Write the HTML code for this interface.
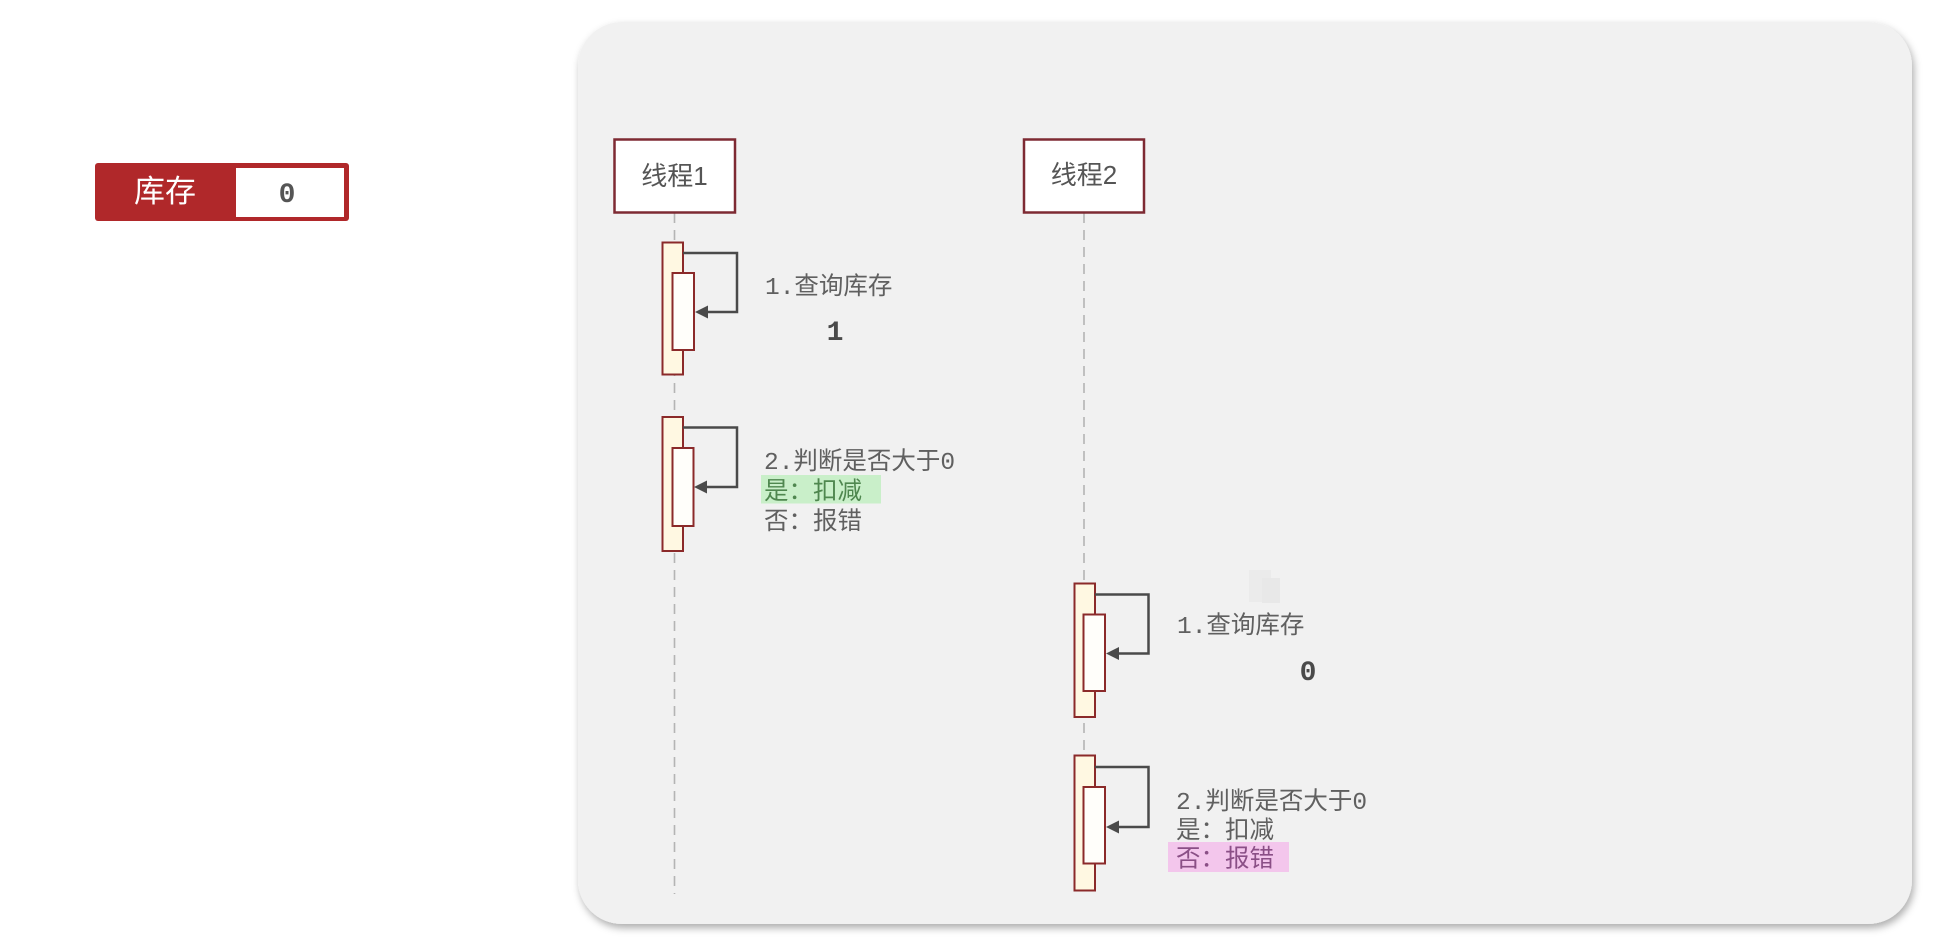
<!DOCTYPE html>
<html>
<head>
<meta charset="utf-8">
<style>
  html,body{margin:0;padding:0;background:#ffffff;}
  body{width:1938px;height:946px;overflow:hidden;position:relative;}
  svg{position:absolute;left:0;top:0;}
  .mono{font-family:"Liberation Mono","Noto Sans CJK SC",monospace;}
  .sans{font-family:"Liberation Sans","Noto Sans CJK SC",sans-serif;}
</style>
</head>
<body>
<svg width="1938" height="946" viewBox="0 0 1938 946" xmlns="http://www.w3.org/2000/svg">
  <defs>
    <filter id="sh" x="-5%" y="-5%" width="110%" height="115%">
      <feDropShadow dx="2" dy="4" stdDeviation="4" flood-color="#000" flood-opacity="0.32"/>
    </filter>
  </defs>

  <!-- Badge 库存 0 -->
  <rect x="95" y="163" width="254" height="58" rx="3" fill="#b0282a"/>
  <rect x="236" y="168" width="108" height="49" fill="#ffffff"/>
  <text x="165" y="202" class="sans" font-size="31" fill="#ffffff" text-anchor="middle">库存</text>
  <text x="287" y="202" class="mono" font-size="28" font-weight="bold" fill="#555555" text-anchor="middle">0</text>

  <!-- Panel -->
  <rect x="578" y="22" width="1334" height="902" rx="44" ry="44" fill="#f1f1f1" filter="url(#sh)"/>

  <!-- faint square -->
  <rect x="1249" y="570" width="22" height="32" fill="#ebebeb"/>
  <rect x="1262" y="578" width="18" height="25" fill="#e8e8e8"/>

  <!-- Lifelines -->
  <line x1="674.5" y1="213" x2="674.5" y2="894" stroke="#b4b4b4" stroke-width="1.6" stroke-dasharray="10,7"/>
  <line x1="1084" y1="213" x2="1084" y2="893" stroke="#b4b4b4" stroke-width="1.6" stroke-dasharray="10,7"/>

  <!-- Thread boxes -->
  <rect x="614.5" y="139.5" width="120.5" height="73" fill="#ffffff" stroke="#7e2a33" stroke-width="2.5"/>
  <text x="674.5" y="185" class="sans" font-size="26" fill="#555555" text-anchor="middle">线程1</text>
  <rect x="1024" y="139.5" width="120" height="73" fill="#ffffff" stroke="#7e2a33" stroke-width="2.5"/>
  <text x="1084" y="184" class="sans" font-size="26" fill="#555555" text-anchor="middle">线程2</text>

  <!-- Thread 1, step 1 -->
  <rect x="662.5" y="242.5" width="20.5" height="132" fill="#fff8e2" stroke="#8b2a2a" stroke-width="2"/>
  <rect x="672.5" y="273" width="21.5" height="77" fill="#fffefa" stroke="#8b2a2a" stroke-width="2"/>
  <path d="M683,253 H737 V312 H706" fill="none" stroke="#4a4a4a" stroke-width="2.5"/>
  <polygon points="695,312 708,305.5 708,318.5" fill="#4a4a4a"/>
  <text x="765" y="294" class="mono" font-size="24.5" fill="#606060">1.查询库存</text>
  <text x="835" y="340" class="mono" font-size="28" font-weight="bold" fill="#4a4a4a" text-anchor="middle">1</text>

  <!-- Thread 1, step 2 -->
  <rect x="662.5" y="417" width="20.5" height="134" fill="#fff8e2" stroke="#8b2a2a" stroke-width="2"/>
  <rect x="672.5" y="448" width="21" height="78" fill="#fffefa" stroke="#8b2a2a" stroke-width="2"/>
  <path d="M683,427.5 H737 V487 H706" fill="none" stroke="#4a4a4a" stroke-width="2.5"/>
  <polygon points="694,487 707,480.5 707,493.5" fill="#4a4a4a"/>
  <rect x="761" y="475" width="120" height="28.5" fill="#c9efc9"/>
  <text x="764" y="469" class="mono" font-size="24.5" fill="#606060">2.判断是否大于0</text>
  <text x="764" y="499" class="mono" font-size="24.5" fill="#4f874f">是：扣减</text>
  <text x="764" y="529" class="mono" font-size="24.5" fill="#606060">否：报错</text>

  <!-- Thread 2, step 1 -->
  <rect x="1074.5" y="583.5" width="20.5" height="133.5" fill="#fff8e2" stroke="#8b2a2a" stroke-width="2"/>
  <rect x="1083.5" y="614.5" width="21.5" height="76.5" fill="#fffefa" stroke="#8b2a2a" stroke-width="2"/>
  <path d="M1095,594.5 H1148.5 V653.5 H1118" fill="none" stroke="#4a4a4a" stroke-width="2.5"/>
  <polygon points="1106,653.5 1119,647 1119,660" fill="#4a4a4a"/>
  <text x="1177" y="633" class="mono" font-size="24.5" fill="#606060">1.查询库存</text>
  <text x="1308" y="680" class="mono" font-size="28" font-weight="bold" fill="#4a4a4a" text-anchor="middle">0</text>

  <!-- Thread 2, step 2 -->
  <rect x="1074.5" y="755.5" width="20.5" height="135" fill="#fff8e2" stroke="#8b2a2a" stroke-width="2"/>
  <rect x="1083.5" y="787" width="21.5" height="76.5" fill="#fffefa" stroke="#8b2a2a" stroke-width="2"/>
  <path d="M1095,767 H1148.5 V827 H1118" fill="none" stroke="#4a4a4a" stroke-width="2.5"/>
  <polygon points="1106,827 1119,820.5 1119,833.5" fill="#4a4a4a"/>
  <rect x="1168" y="842" width="121" height="30" fill="#f3c6ec"/>
  <text x="1176" y="809" class="mono" font-size="24.5" fill="#606060">2.判断是否大于0</text>
  <text x="1176" y="838" class="mono" font-size="24.5" fill="#606060">是：扣减</text>
  <text x="1176" y="866.5" class="mono" font-size="24.5" fill="#8a4f86">否：报错</text>
</svg>
</body>
</html>
